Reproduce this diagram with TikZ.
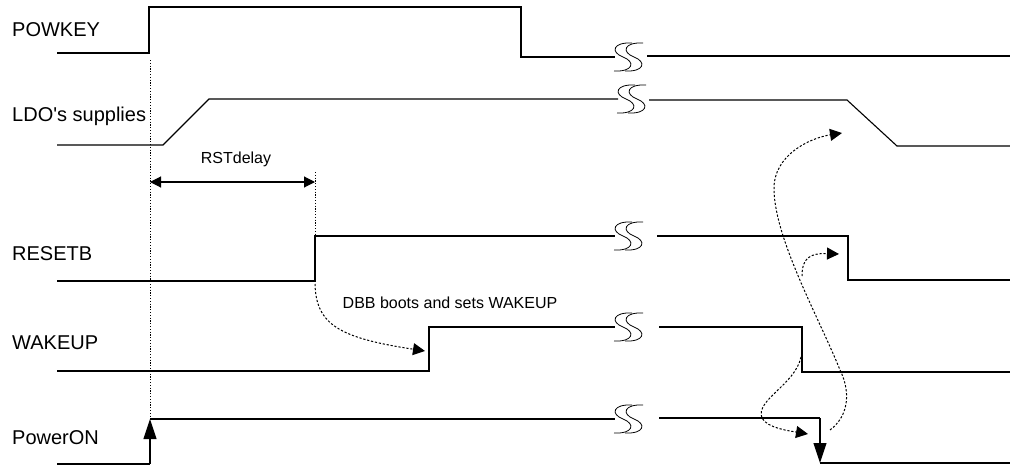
\documentclass[tikz,border=0pt]{standalone}
\usepackage{fontspec}
\setmainfont{Liberation Sans}
\usetikzlibrary{arrows.meta}
\tikzset{
  sig/.style={line width=1.1pt, line join=miter},
  lbl/.style={anchor=west, inner sep=0pt, font=\fontsize{20}{24}\selectfont},
  note/.style={inner sep=0pt, font=\fontsize{16}{19}\selectfont},
  guide/.style={line width=0.8pt, dash pattern=on 1.2pt off 1.6pt},
  cause/.style={line width=1pt, dash pattern=on 2.2pt off 1.8pt, -{Triangle[length=12pt,width=12pt]}},
  bigtip/.style={-{Triangle[length=20pt,width=13pt]}},
  dimarrow/.style={line width=1.1pt, {Triangle[length=11pt,width=11pt]}-{Triangle[length=11pt,width=11pt]}},
  brkS/.pic={\draw[line width=0.8pt] (9,-14) .. controls (-10,-15) and (-13,-5) .. (0,0) .. controls (13,5) and (10,15) .. (-9,14);}
}
\begin{document}
\begin{tikzpicture}[x=1pt,y=-1pt]
\useasboundingbox (0,0) rectangle (1010,466);

% labels
\node[lbl] (lpow) at (12,30) {POWKEY};
\node[lbl] (lldo) at (12,116) {LDO\textquotesingle s supplies};
\node[lbl] (lres) at (12,254) {RESETB};
\node[lbl] (lwak) at (12,343) {WAKEUP};
\node[lbl] (lpon) at (12,438) {PowerON};

% POWKEY
\coordinate (p0) at (57,53); \coordinate (p1) at (149,53); \coordinate (p2) at (149,7);
\coordinate (p3) at (521,7); \coordinate (p4) at (521,57); \coordinate (p5) at (615,57);
\coordinate (p6) at (647,56); \coordinate (p7) at (1010,56);
\draw[sig] (p0) -- (p1) -- (p2) -- (p3) -- (p4) -- (p5);
\draw[sig] (p6) -- (p7);
\pic at (623,57) {brkS}; \pic at (634,57) {brkS};

% LDO
\coordinate (l0) at (57,145); \coordinate (l1) at (163,145); \coordinate (l2) at (209,99);
\coordinate (l3) at (618,99); \coordinate (l4) at (649,100); \coordinate (l5) at (847,100);
\coordinate (l6) at (897,146); \coordinate (l7) at (1010,146);
\draw[sig] (l0) -- (l1) -- (l2) -- (l3);
\draw[sig] (l4) -- (l5) -- (l6) -- (l7);
\pic at (626,99) {brkS}; \pic at (637,99) {brkS};

% RESETB
\coordinate (r0) at (57,281); \coordinate (r1) at (315,281); \coordinate (r2) at (315,236);
\coordinate (r3) at (615,236); \coordinate (r4) at (657,236); \coordinate (r5) at (848,236);
\coordinate (r6) at (848,280); \coordinate (r7) at (1010,280);
\draw[sig] (r0) -- (r1) -- (r2) -- (r3);
\draw[sig] (r4) -- (r5) -- (r6) -- (r7);
\pic at (623,236) {brkS}; \pic at (634,236) {brkS};

% WAKEUP
\coordinate (w0) at (57,371); \coordinate (w1) at (429,371); \coordinate (w2) at (429,327);
\coordinate (w3) at (615,327); \coordinate (w4) at (659,327); \coordinate (w5) at (802,327);
\coordinate (w6) at (802,372); \coordinate (w7) at (1010,372);
\draw[sig] (w0) -- (w1) -- (w2) -- (w3);
\draw[sig] (w4) -- (w5) -- (w6) -- (w7);
\pic at (623,327) {brkS}; \pic at (634,327) {brkS};

% PowerON
\coordinate (o0) at (57,464); \coordinate (o1) at (150,464); \coordinate (o2) at (150,419);
\coordinate (o3) at (615,419); \coordinate (o4) at (659,418); \coordinate (o5) at (820,418);
\coordinate (o6) at (820,463); \coordinate (o7) at (1010,463);
\draw[sig] (o0) -- (o1);
\draw[sig,bigtip] (o1) -- (o2);
\draw[sig] (o2) -- (o3);
\draw[sig] (o4) -- (o5);
\draw[sig,bigtip] (o5) -- (o6);
\draw[sig] (o6) -- (o7);
\pic at (623,419) {brkS}; \pic at (634,419) {brkS};

% guides and RSTdelay
\coordinate (g0) at (150,60); \coordinate (g1) at (150,420);
\coordinate (h0) at (315,172);
\draw[guide] (g0) -- (g1);
\draw[guide] (h0) -- (r2);
\coordinate (d0) at (150,182); \coordinate (d1) at (315,182);
\draw[dimarrow] (d0) -- (d1);
\node[note] (trst) at (236,159) {RSTdelay};

% DBB boots
\node[note] (tdbb) at (450,303) {DBB boots and sets WAKEUP};
\coordinate (c1s) at (315,284); \coordinate (c1e) at (425,351);
\draw[cause] (c1s) .. controls (316,325) and (340,338) .. (c1e);

% right-side causal curves
\coordinate (c2s) at (801,357); \coordinate (c2m) at (762,418); \coordinate (c2e) at (808,434);
\draw[cause] (c2s) .. controls (795,385) and (755,400) .. (c2m) .. controls (767,428) and (790,431) .. (c2e);

\coordinate (c3s) at (830,430); \coordinate (c3a) at (840,370); \coordinate (c3b) at (774,190); \coordinate (c3e) at (842,133);
\draw[cause] (c3s) .. controls (850,415) and (850,390) .. (c3a) .. controls (820,320) and (775,240) .. (c3b) .. controls (773,155) and (810,138) .. (c3e);

\coordinate (c4s) at (802,276); \coordinate (c4e) at (839,254);
\draw[cause] (c4s) .. controls (802,258) and (810,253) .. (c4e);
\end{tikzpicture}
\end{document}
